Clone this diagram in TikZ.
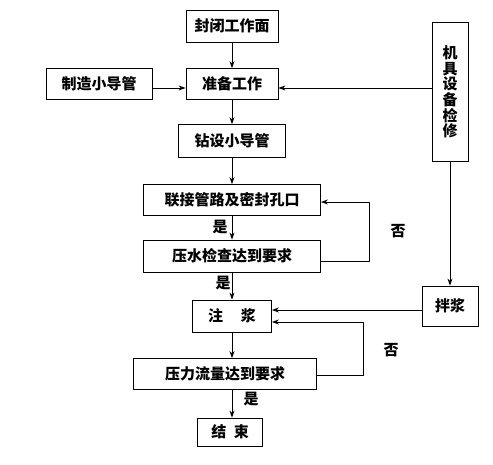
\documentclass[tikz,border=0pt]{standalone}
\usepackage{fontspec}
\setmainfont{Noto Sans CJK SC}
\usetikzlibrary{arrows.meta}

\begin{document}
\begin{tikzpicture}[x=1pt, y=-1pt, >={Stealth[length=7pt,width=5pt]},
    box/.style={draw, line width=0.8pt, inner sep=0pt, font=\fontsize{15}{16}\selectfont\bfseries},
    arr/.style={->, line width=0.8pt},
    lbl/.style={font=\fontsize{15}{16}\selectfont\bfseries}]
    \useasboundingbox (0,0) rectangle (493,464);

    \node[box, minimum width=92, minimum height=32] (seal) at (232,26) {封闭工作面};
    \node[box, minimum width=92, minimum height=31] (prep) at (232,84) {准备工作};
    \node[box, minimum width=106, minimum height=31] (make) at (99,84) {制造小导管};
    \node[box, minimum width=107, minimum height=33] (drill) at (232,141) {钻设小导管};
    \node[box, minimum width=177, minimum height=31] (connect) at (232,200) {联接管路及密封孔口};
    \node[box, minimum width=177, minimum height=32] (test) at (232,256) {压水检查达到要求};
    \node[box, minimum width=79, minimum height=32] (inject) at (232,316) {注\hspace{1.2em}浆};
    \node[box, minimum width=183, minimum height=31] (check) at (225,374) {压力流量达到要求};
    \node[box, minimum width=65, minimum height=28] (finish) at (230,432) {结\hspace{0.5em}束};
    \node[box, minimum width=36, minimum height=139, align=center,
        font=\fontsize{15}{15.7}\selectfont\bfseries] (repair) at (450,92) {机\\具\\设\\备\\检\\修};
    \node[box, minimum width=56, minimum height=40] (mix) at (450,306) {拌浆};

    % main line
    \draw[arr] (seal) -- (prep);
    \draw[arr] (prep) -- (drill);
    \draw[arr] (drill) -- (connect);
    \draw[arr] (connect) -- (test);
    \draw[arr] (test) -- (inject);
    \draw[arr] (inject.south -| seal) -- (check.north -| seal);
    \draw[arr] (check.south -| seal) -- (finish.north -| seal);

    \draw[arr] ([yshift=-4pt]make.east) -- ([yshift=-4pt]prep.west);
    \draw[arr] ([yshift=-4pt]repair.west |- prep.east) -- ([yshift=-4pt]prep.east);
    \draw[arr] (repair.south -| mix) -- (mix.north);
    \draw[arr] ([yshift=-4pt]mix.west) -- ([yshift=-4pt]mix.west -| inject.east);

    % loops back
    \draw[arr] ([yshift=-5pt]test.east) -- ++(48,0) |- ([yshift=-2pt]connect.east);
    \draw[arr] ([yshift=-1pt]check.east) -- ++(46,0) |- ([yshift=-6pt]inject.east);

    \node[lbl] (yes1) at (220,227) {是};
    \node[lbl] (yes2) at (223,283) {是};
    \node[lbl] (yes3) at (251,399) {是};
    \node[lbl] (no1) at (398,231) {否};
    \node[lbl] (no2) at (391,350) {否};
\end{tikzpicture}
\end{document}
